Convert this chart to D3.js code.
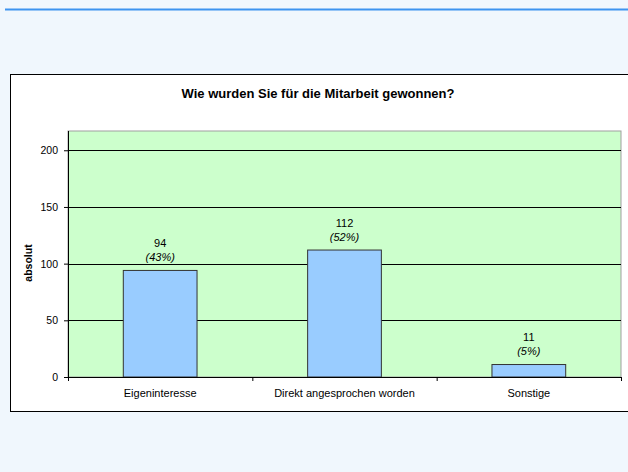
<!DOCTYPE html>
<html>
<head>
<meta charset="utf-8" />
<script src="https://d3js.org/d3.v7.min.js"></script>
<style>
  body { margin: 0; background: #f0f7fd; }
  svg { display: block; font-family: "Liberation Sans", Arial, sans-serif; }
</style>
</head>
<body>
<div id="chart"></div>
<script>
const categories = ["Eigeninteresse", "Direkt angesprochen worden", "Sonstige"];
const values = [94, 112, 11];
const percents = ["(43%)", "(52%)", "(5%)"];
const yTicks = [0, 50, 100, 150, 200];

const width = 628, height = 472;
const svg = d3.select("#chart").append("svg").attr("width", width).attr("height", height);

// page background + top rule
svg.append("rect").attr("width", width).attr("height", height).attr("fill", "#f0f7fd");
svg.append("line").attr("x1", 5).attr("x2", width).attr("y1", 9.5).attr("y2", 9.5)
    .attr("stroke", "#3d94f0").attr("stroke-width", 2);

// chart box
svg.append("rect").attr("x", 10.5).attr("y", 74.5).attr("width", 630).attr("height", 337)
    .attr("fill", "#fff").attr("stroke", "#000").attr("stroke-width", 1);

svg.append("text").attr("x", 318).attr("y", 98).attr("text-anchor", "middle")
    .attr("font-size", 13).attr("font-weight", "bold").text("Wie wurden Sie für die Mitarbeit gewonnen?");

const pLeft = 68, pRight = 621, pTop = 131, pBottom = 377;
const x = d3.scaleBand().domain(categories).range([pLeft, pRight]).paddingInner(0.6).paddingOuter(0.3);
const y = d3.scaleLinear().domain([0, 217]).range([pBottom, pTop]);

svg.append("rect").attr("x", pLeft).attr("y", pTop).attr("width", pRight - pLeft).attr("height", pBottom - pTop)
    .attr("fill", "#ccffcc").attr("stroke", "#a0a0a0");

svg.append("g").selectAll("line").data(yTicks.slice(1)).join("line")
    .attr("x1", pLeft).attr("x2", pRight)
    .attr("y1", d => Math.round(y(d)) + 0.5).attr("y2", d => Math.round(y(d)) + 0.5)
    .attr("stroke", "#000");

svg.append("g").selectAll("rect").data(values).join("rect")
    .attr("x", (d, i) => x(categories[i]))
    .attr("y", d => y(d))
    .attr("width", x.bandwidth())
    .attr("height", d => pBottom - y(d))
    .attr("fill", "#99ccff").attr("stroke", "#333").attr("stroke-width", 1);

const labels = svg.append("g").attr("font-size", 11).attr("text-anchor", "middle").attr("fill", "#000");
labels.selectAll("text.v").data(values).join("text").attr("class", "v")
    .attr("x", (d, i) => x(categories[i]) + x.bandwidth() / 2)
    .attr("y", d => y(d) - 23.5).text(d => d);
labels.selectAll("text.p").data(percents).join("text").attr("class", "p")
    .attr("x", (d, i) => x(categories[i]) + x.bandwidth() / 2)
    .attr("y", (d, i) => y(values[i]) - 9.5).attr("font-style", "italic").text(d => d);

// y axis
const yAxis = svg.append("g").attr("transform", `translate(${pLeft},0)`)
    .call(d3.axisLeft(y).tickValues(yTicks).tickSize(4).tickPadding(6));
yAxis.select(".domain").remove();
yAxis.append("line").attr("x1", 0.5).attr("x2", 0.5).attr("y1", pTop).attr("y2", pBottom).attr("stroke", "#000");
yAxis.selectAll("text").attr("font-size", 10.5).attr("font-family", "Liberation Sans, Arial, sans-serif").attr("fill", "#000");
yAxis.selectAll(".tick line").attr("stroke", "#000");

// x axis
const xAxis = svg.append("g").attr("transform", `translate(0,${pBottom})`);
xAxis.append("line").attr("x1", pLeft - 4).attr("x2", pRight).attr("y1", 0.5).attr("y2", 0.5).attr("stroke", "#000");
xAxis.selectAll("line.t").data(d3.range(categories.length + 1)).join("line").attr("class", "t")
    .attr("x1", i => pLeft + (pRight - pLeft) / categories.length * i + 0.5)
    .attr("x2", i => pLeft + (pRight - pLeft) / categories.length * i + 0.5)
    .attr("y1", 0).attr("y2", 4).attr("stroke", "#000");
xAxis.selectAll("text").data(categories).join("text")
    .attr("x", d => x(d) + x.bandwidth() / 2).attr("y", 20)
    .attr("text-anchor", "middle").attr("font-size", 11).text(d => d);

svg.append("text").attr("transform", "translate(32,263) rotate(-90)")
    .attr("text-anchor", "middle").attr("font-size", 10.5).attr("font-weight", "bold").text("absolut");
</script>
</body>
</html>
